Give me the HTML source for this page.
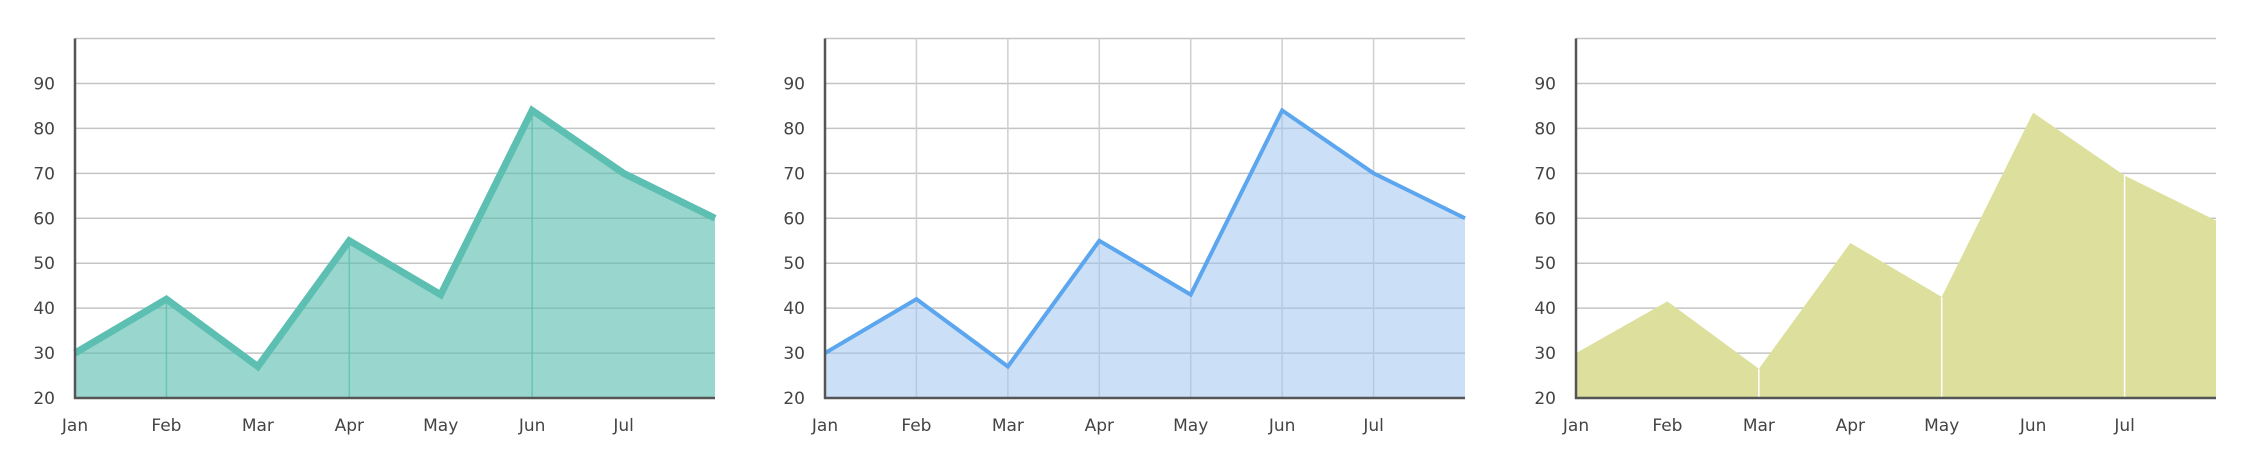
<!DOCTYPE html>
<html><head><meta charset="utf-8"><style>
html,body{margin:0;padding:0;background:#fff;}
svg{display:block;}
text{font-family:"DejaVu Sans","Liberation Sans",sans-serif;font-size:17px;fill:#444;}
</style></head><body>
<svg id="root" width="2256" height="474"></svg>
<script>
const months = ["Jan","Feb","Mar","Apr","May","Jun","Jul","Aug"];
const seriesA = [30,42,27,55,43,84,70,60];
const seriesB = [30,42,27,55,43,84,70,60];
const seriesC = [30,41.5,26.5,54.5,42.5,83.5,69.5,59.5];
const yTicks = [20,30,40,50,60,70,80,90];
const yMin = 20, yMax = 100;

const NS = "http://www.w3.org/2000/svg";
const root = document.getElementById("root");
function mk(tag, attrs, parent){
  const e = document.createElementNS(NS, tag);
  for (const k in attrs) e.setAttribute(k, attrs[k]);
  parent.appendChild(e); return e;
}
function chart(x0, x1, data, opts, idx){
  const top = 38.5, bot = 398;
  const g = mk("g", {}, root);
  
  
  const xs = i => x0 + (x1 - x0) * i / (months.length - 1);
  const ys = v => bot - (v - yMin) / (yMax - yMin) * (bot - top);
  // horizontal grid
  for (let v = 30; v <= 100; v += 10) {
    const l = mk("line", {x1:x0, x2:x1, y1:ys(v), y2:ys(v), stroke:"#c4c4c4", "stroke-width":1.5}, g);
    
    
  }
  if (opts.vgrid) {
    for (let i = 1; i < months.length - 1; i++) {
      const l = mk("line", {x1:xs(i), x2:xs(i), y1:top, y2:bot, stroke:"#cfcfcf", "stroke-width":1.5}, g);
      
      
    }
  }
  let d = "M" + xs(0) + "," + bot;
  data.forEach((v, i) => { d += " L" + xs(i) + "," + ys(v); });
  d += " L" + xs(data.length - 1) + "," + bot + " Z";
  const a = mk("path", {d:d, fill:opts.fill}, g);
  
  
  if (opts.innerLines) {
    opts.innerLines.forEach(i => {
      const l = mk("line", {x1:xs(i), x2:xs(i), y1:ys(data[i]), y2:bot, stroke:opts.innerColor, "stroke-width":1.5}, g);
      
      
    });
  }
  if (opts.stroke) {
    let p = "";
    data.forEach((v, i) => { p += (i ? " L" : "M") + xs(i) + "," + ys(v); });
    const s = mk("path", {d:p, fill:"none", stroke:opts.stroke, "stroke-width":opts.sw}, g);
    
    
  }
  // axes
  const ya = mk("line", {x1:x0, x2:x0, y1:top, y2:bot+1, stroke:"#555", "stroke-width":2.5}, g);
  
  
  const xa = mk("line", {x1:x0-1, x2:x1, y1:bot, y2:bot, stroke:"#555", "stroke-width":2.5}, g);
  
  
  yTicks.forEach(v => {
    const t = mk("text", {x:x0 - 20, y:ys(v) + 6, "text-anchor":"end"}, g);
    t.textContent = v;
    
    
  });
  months.slice(0, 7).forEach((m, i) => {
    const t = mk("text", {x:xs(i), y:431, "text-anchor":"middle"}, g);
    t.textContent = m;
    
    
  });
}
chart(75, 715, seriesA, {fill:"rgba(91,191,176,0.62)", stroke:"#5cbfb1", sw:7, innerLines:[1,3,5], innerColor:"rgba(91,191,176,0.8)"}, 1);
chart(825, 1465, seriesB, {fill:"rgba(160,196,240,0.55)", stroke:"#5ba6ee", sw:4, vgrid:true}, 2);
chart(1576, 2216, seriesC, {fill:"#dce09c", innerLines:[2,4,6], innerColor:"#ffffff"}, 3);
</script>
</body></html>
